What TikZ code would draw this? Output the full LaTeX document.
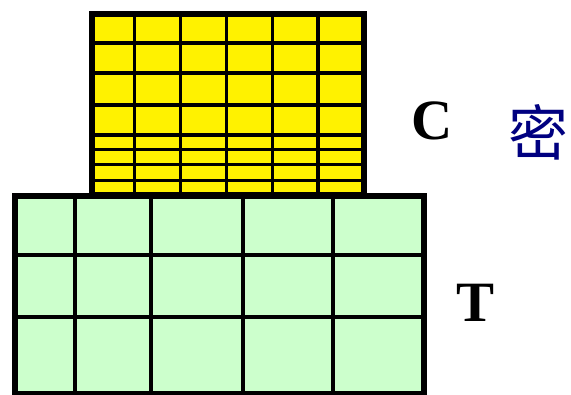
\documentclass[tikz,border=0pt]{standalone}
\usepackage{fontspec}
\setmainfont{Liberation Serif}
\newfontfamily\cjk{Noto Sans CJK SC}
\definecolor{paleGreen}{RGB}{204,255,204}
\definecolor{navyBlue}{RGB}{0,0,128}
\tikzset{gridline/.style={line width=3.2pt, color=black}, frame/.style={line width=6pt, color=black}}

\begin{document}
\begin{tikzpicture}[x=1pt,y=-1pt]
        \useasboundingbox (0,0) rectangle (571,395);
        % upper layer C
        \fill[color=yellow] (92,14) rectangle (364,195);
        \draw[gridline] (134.5,14) -- (134.5,195); \draw[gridline] (180.5,14) -- (180.5,195); \draw[gridline] (226.5,14) -- (226.5,195); \draw[gridline] (272.5,14) -- (272.5,195); \draw[gridline] (318,14) -- (318,195);
        \draw[gridline] (92,43) -- (364,43); \draw[gridline] (92,73) -- (364,73); \draw[gridline] (92,105) -- (364,105); \draw[gridline] (92,135) -- (364,135);
        \draw[gridline] (92,149.5) -- (364,149.5); \draw[gridline] (92,164.5) -- (364,164.5); \draw[gridline] (92,180.5) -- (364,180.5);
        \draw[frame] (92,14) rectangle (364,195);
        % lower layer T
        \fill[color=paleGreen] (15,196) rectangle (424,394);
        \draw[gridline] (75,196) -- (75,394); \draw[gridline] (151,196) -- (151,394); \draw[gridline] (243,196) -- (243,394); \draw[gridline] (333,196) -- (333,394);
        \draw[gridline] (15,255) -- (424,255); \draw[gridline] (15,317) -- (424,317);
        \draw[frame] (15,196) rectangle (424,394);
        % labels
        \node[inner sep=0, font=\bfseries\fontsize{57}{57}\selectfont] (labelC) at (432,121) {C};
        \node[inner sep=0, font=\bfseries\fontsize{57}{57}\selectfont] (labelT) at (476,303) {T};
        \node[inner sep=0, color=navyBlue, font=\cjk\fontsize{60}{60}\selectfont] (labelMi) at (538,132) {密};
    \end{tikzpicture}
\end{document}
